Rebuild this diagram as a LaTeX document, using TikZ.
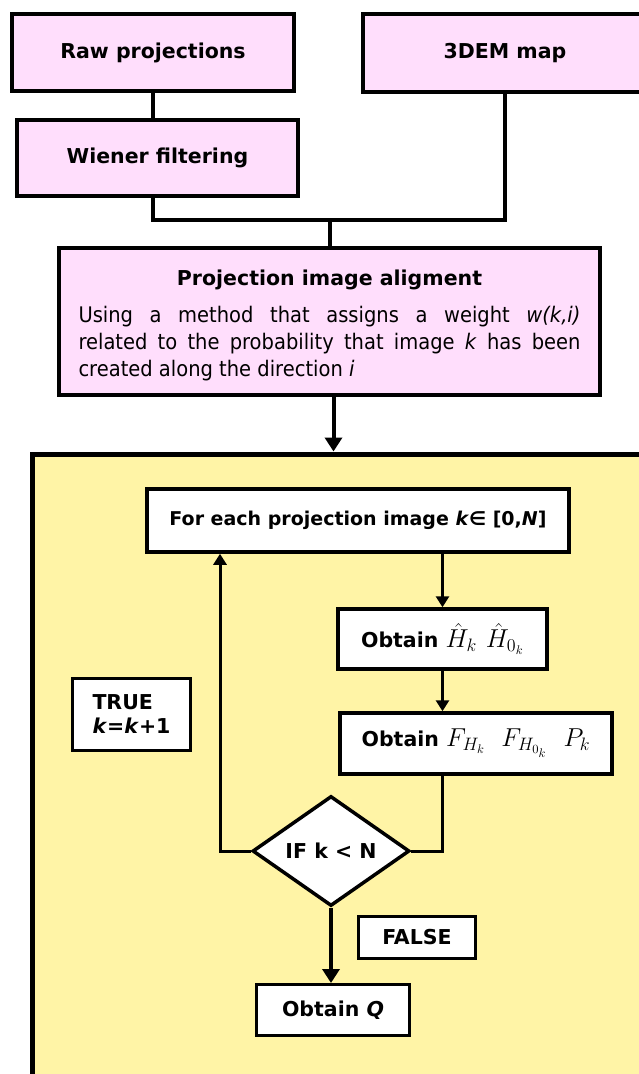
\documentclass[tikz,border=0pt]{standalone}
\usepackage[no-math]{fontspec}
\setmainfont{DejaVu Sans}
\usepackage{amsmath}
\usepackage{tikz}
\usetikzlibrary{calc,positioning,shapes.geometric,arrows.meta}
\definecolor{pinkbox}{RGB}{255,222,252}
\definecolor{loopyellow}{RGB}{255,244,166}
\tikzset{
	stagebox/.style={draw=black,line width=4pt,fill=pinkbox,inner sep=0pt,
		font=\bfseries\fontsize{20.5}{24}\selectfont},
	innerbox/.style={draw=black,line width=3.5pt,fill=white,inner sep=0pt,
		font=\bfseries\fontsize{20.5}{24}\selectfont},
	link/.style={line width=4pt},
	innerlink/.style={line width=3pt},
	flow/.style={line width=4pt,-{Triangle[length=14pt,width=17pt]}},
	innerflow/.style={line width=3pt,-{Triangle[length=11pt,width=13pt]}},
}
\newcommand{\bigmath}[1]{\scalebox{1.25}{$#1$}}
\begin{document}
\begin{tikzpicture}[x=1pt,y=-1pt]
				 %\draw[color=gray,step=10pt, help lines,opacity=0.3] (0,0) grid (639,1074); %help grids
				 \path[use as bounding box] (0,0) rectangle (639,1074);
				 \clip (0,0) rectangle (639,1074);
				 \node[stagebox,minimum width=282pt,minimum height=77pt] (raw) at (153,52.5) {Raw projections};
				 \node[stagebox,minimum width=284pt,minimum height=78pt] (map) at (505,53) {3DEM map};
				 \node[stagebox,minimum width=281pt,minimum height=76pt] (wiener) at (157.5,158) {Wiener filtering};
				 \draw[link] (raw.south) -- (raw.south |- wiener.north);
				 \coordinate (join) at (330,220);
				 \draw[link] (wiener.south -| raw.south) |- (join) -| (map.south);
				 \node[stagebox,minimum width=541pt,minimum height=147pt] (align) at (329.5,321.5) {%
				 	\parbox{502pt}{\vspace*{8pt}\noindent\makebox[502pt]{Projection image aligment}\par\vspace{15pt}
				 	\noindent\scalebox{1}[1.1]{\parbox{502pt}{\mdseries\fontsize{19.5}{24.8}\selectfont Using a method that assigns a weight \textit{w(k,i)}\linebreak
				 	related to the probability that image \textit{k} has been\linebreak
				 	created along the direction \textit{i}}}}};
				 \draw[link] (join) -- (join |- align.north);
				 \node[draw=black,line width=5pt,fill=loopyellow,minimum width=668pt,minimum height=676pt] (loop) at (366,792) {};
				 \draw[flow] ([xshift=4pt]align.south) -- ([xshift=4pt]align.south |- loop.north);
				 \node[innerbox,minimum width=422pt,minimum height=63pt,font=\bfseries\fontsize{19}{22}\selectfont] (each) at (358,520.5) {\raisebox{4pt}{For each projection image \textit{k}∈ [0,\textit{N}]}};
				 \node[innerbox,minimum width=209pt,minimum height=60pt] (hhat) at (442.5,639) {Obtain \bigmath{\hat{H}_k\ \hat{H}_{0_k}}};
				 \node[innerbox,minimum width=272pt,minimum height=61pt] (fobt) at (476,743.5) {Obtain \bigmath{F_{H_k}\ \;F_{H_{0_k}}\ \;P_k}};
				 \node[innerbox,shape=diamond,minimum width=157pt,minimum height=110pt] (cond) at (331,851) {IF k < N};
				 \node[innerbox,line width=3pt,minimum width=118pt,minimum height=72pt,align=left] (truebox) at (131.5,714.5) {TRUE\\\textit{k}=\textit{k}+1};
				 \node[innerbox,line width=3pt,minimum width=117pt,minimum height=42pt] (falsebox) at (417,937.5) {FALSE};
				 \node[innerbox,line width=3pt,minimum width=153pt,minimum height=51pt] (qbox) at (333,1010) {Obtain \textit{Q}};
				 \draw[innerflow] (hhat.north |- each.south) -- (hhat.north);
				 \draw[innerflow] (hhat.south) -- (hhat.south |- fobt.north);
				 \draw[innerlink] (fobt.south -| hhat.south) |- (cond.east);
				 \coordinate (ret) at ([xshift=-138pt]each.south);
				 \draw[innerflow] (cond.west) -| (ret);
				 \draw[flow] (cond.south) -- (cond.south |- qbox.north);
\end{tikzpicture}
\end{document}
